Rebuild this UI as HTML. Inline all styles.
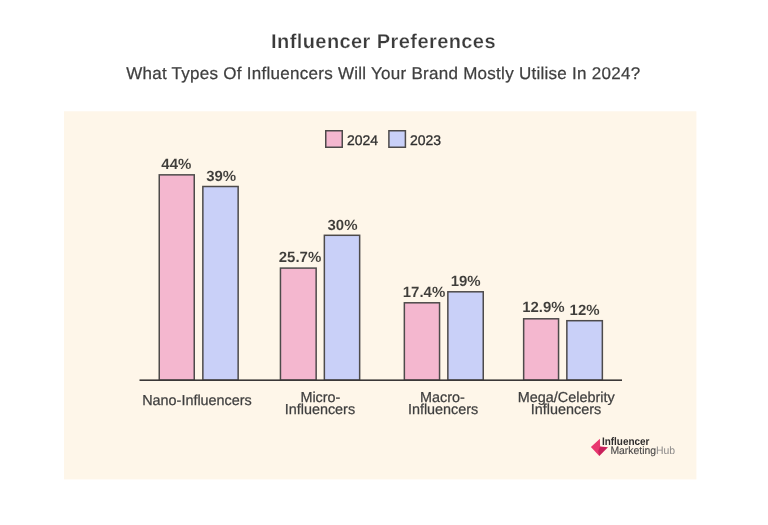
<!DOCTYPE html>
<html><head><meta charset="utf-8">
<style>
html,body{margin:0;padding:0;background:#fff;}
body{width:768px;height:525px;overflow:hidden;}
svg{display:block;font-family:"Liberation Sans",sans-serif;text-rendering:geometricPrecision;will-change:transform;filter:blur(0.35px);}
.v{font-weight:bold;font-size:14.8px;fill:#3f3d3a;text-anchor:middle;stroke:#fef6e9;stroke-width:0.05;}
.c{font-size:14.4px;fill:#3f3f3f;text-anchor:middle;stroke:#3f3f3f;stroke-width:0.25;}
.bar{stroke:#4d4a4a;stroke-width:1.5;}
.p{fill:#f4b7cf;}
.b{fill:#c9d0f8;}
</style></head><body>
<svg width="768" height="525" viewBox="0 0 768 525">
<rect x="0" y="0" width="768" height="525" fill="#ffffff"/>
<rect x="64" y="111.3" width="632.4" height="368.1" fill="#fef6e9"/>
<text id="title" x="383.5" y="48.3" text-anchor="middle" font-size="20" font-weight="bold" fill="#3a3a3a" letter-spacing="0.42" stroke="#ffffff" stroke-width="0.25">Influencer Preferences</text>
<text id="sub" x="383.3" y="79" text-anchor="middle" font-size="17" fill="#3f3f3f" stroke="#3f3f3f" stroke-width="0.25" letter-spacing="0.27">What Types Of Influencers Will Your Brand Mostly Utilise In 2024?</text>

<!-- legend -->
<rect class="bar p" x="325.75" y="130.75" width="16.5" height="16.5"/>
<text x="347" y="145" font-size="14" fill="#2f2f2f" stroke="#2f2f2f" stroke-width="0.3">2024</text>
<rect class="bar b" x="388.9" y="130.75" width="16.5" height="16.5"/>
<text x="410" y="145" font-size="14" fill="#2f2f2f" stroke="#2f2f2f" stroke-width="0.3">2023</text>

<!-- bars -->
<rect class="bar p" x="159.25" y="174.85" width="35" height="205.35"/>
<rect class="bar b" x="202.85" y="186.5" width="35.3" height="193.70"/>
<rect class="bar p" x="280.45" y="268.1" width="35.7" height="112.10"/>
<rect class="bar b" x="324.35" y="235.3" width="35.3" height="144.90"/>
<rect class="bar p" x="404.35" y="302.8" width="35.2" height="77.40"/>
<rect class="bar b" x="447.85" y="291.8" width="35.4" height="88.40"/>
<rect class="bar p" x="523.65" y="318.8" width="34.9" height="61.40"/>
<rect class="bar b" x="566.85" y="320.7" width="35.5" height="59.50"/>
<rect x="139.5" y="379.4" width="482.5" height="1.6" fill="#3a3838"/>

<!-- values -->
<text class="v" x="176.3" y="169" textLength="30.0" lengthAdjust="spacingAndGlyphs">44%</text>
<text class="v" x="221.2" y="181" textLength="30.0" lengthAdjust="spacingAndGlyphs">39%</text>
<text class="v" x="300" y="262" textLength="42.5" lengthAdjust="spacingAndGlyphs">25.7%</text>
<text class="v" x="342.5" y="230" textLength="30.0" lengthAdjust="spacingAndGlyphs">30%</text>
<text class="v" x="424" y="297" textLength="42.5" lengthAdjust="spacingAndGlyphs">17.4%</text>
<text class="v" x="465.7" y="286" textLength="30.0" lengthAdjust="spacingAndGlyphs">19%</text>
<text class="v" x="543.4" y="312" textLength="42.5" lengthAdjust="spacingAndGlyphs">12.9%</text>
<text class="v" x="584.6" y="315" textLength="30.0" lengthAdjust="spacingAndGlyphs">12%</text>

<!-- categories -->
<text class="c" x="197" y="404.9">Nano-Influencers</text>
<text class="c" x="320.4" y="401.6">Micro-</text>
<text class="c" x="319.9" y="414.4">Influencers</text>
<text class="c" x="442.4" y="401.6">Macro-</text>
<text class="c" x="443.1" y="414.4">Influencers</text>
<text class="c" x="566.2" y="401.6">Mega/Celebrity</text>
<text class="c" x="566" y="414.4">Influencers</text>

<!-- logo -->
<g id="logo">
<polygon points="590.9,447.1 599.9,438.7 600.1,446.7 602,447 599.3,455.9" fill="#e8386f"/>
<polygon points="600.1,446.6 608,447.2 599.3,455.9 598.2,451" fill="#c8215b"/>
<text x="601.9" y="444.7" font-size="10.9" font-weight="bold" fill="#2e2c2c" textLength="47.6" lengthAdjust="spacingAndGlyphs">Influencer</text>
<text x="610.4" y="454.2" font-size="10.8" fill="#4c4a4a" stroke="#4c4a4a" stroke-width="0.15" textLength="64.7" lengthAdjust="spacingAndGlyphs"><tspan>Marketing</tspan><tspan fill="#8a8888" stroke="none">Hub</tspan></text>
</g>
</svg>
</body></html>
